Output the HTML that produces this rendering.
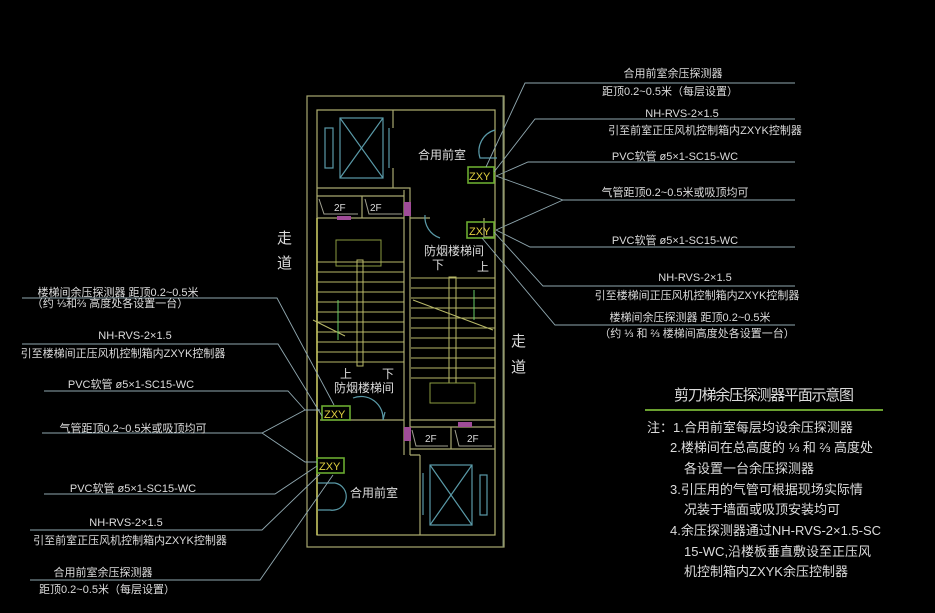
<!DOCTYPE html>
<html><head><meta charset="utf-8"><style>
html,body{margin:0;padding:0;background:#000;}
svg{display:block}
text{font-family:"Liberation Sans","Noto Sans CJK SC",sans-serif;fill:#dcdcdc;}
</style></head><body>
<svg width="935" height="613" viewBox="0 0 935 613" xmlns="http://www.w3.org/2000/svg">
<rect width="935" height="613" fill="#000"/>
<g fill="none" stroke="#a8a870" stroke-width="1.2">
<rect x="307" y="96" width="197" height="451"/>
<rect x="317" y="110" width="178" height="425" stroke="#b0b070"/>
<path d="M317 188 H410 V455"/>
<path d="M393 110 V128 M393 168 V188"/>
<path d="M404 190 V455"/>
<path d="M317 196 H404 M317 218 H404 M362 196 V218"/>
<path d="M410 218 H430 M484 218 V237 H495"/>
<path d="M410 420 H495 M410 427 H495 M410 449 H495 M451 427 V449"/>
<path d="M420 455 V535 M410 455 H420"/>
<path d="M404 420 H320"/>
</g>
<g fill="none" stroke="#5a9aa8" stroke-width="1.2">
<rect x="340" y="118" width="43" height="60"/><path d="M340 118 L383 178 M383 118 L340 178"/>
<rect x="325" y="128" width="8" height="40"/>
<path d="M389 128 V168"/>
<rect x="430" y="465" width="42" height="60"/><path d="M430 465 L472 525 M472 465 L430 525"/>
<rect x="480" y="475" width="7" height="40"/>
<path d="M423 473 V515"/>
<path d="M495 130 A22 22 0 0 0 480 158 L497 158"/>
<path d="M425 215 A22 22 0 0 0 440 238"/>
<path d="M353 398 A22 22 0 0 1 383 420 L385 412"/>
<path d="M318 483 H335 A12 12 0 0 1 330 510 H318"/>
</g>
<g fill="none" stroke="#b8b868" stroke-width="1">
<path d="M317 218 V535" stroke="#c8c860" stroke-width="1.5"/>
<rect x="336" y="240" width="45" height="26" stroke="#8a9a40"/>
<path d="M317 262 H404 M317 272 H404 M317 282 H404 M317 292 H404 M317 302 H404 M317 312 H404 M317 322 H404 M317 332 H404 M317 342 H404 M317 352 H404 M317 362 H404"/>
<rect x="357" y="260" width="6" height="106"/>
<path d="M411 278 H495 M411 288 H495 M411 298 H495 M411 308 H495 M411 318 H495 M411 328 H495 M411 338 H495 M411 348 H495 M411 358 H495 M411 368 H495 M411 378 H495"/>
<rect x="449" y="277" width="7" height="106"/>
<rect x="430" y="383" width="45" height="20" stroke="#8a9a40"/>
<path d="M313 320 L345 336 M413 300 L493 330"/>
<path d="M338 300 V340 M474 290 V320" stroke="#6c6"/>
</g>
<g fill="none" stroke="#a0a090" stroke-width="1"><path d="M319 199 L324 214 H358 M365 199 L369 214 H402 M412 430 L416 446 H448 M455 430 L459 446 H492"/></g>
<g fill="#a04c98"><rect x="337" y="216" width="14" height="4"/><rect x="404" y="202" width="7" height="14"/><rect x="404" y="427" width="7" height="14"/><rect x="458" y="422" width="14" height="5"/></g>
<g font-size="10"><text x="334" y="211">2F</text><text x="370" y="211">2F</text><text x="425" y="442">2F</text><text x="467" y="442">2F</text></g>
<g fill="none" stroke="#6aaa30" stroke-width="1.6">
<rect x="468" y="167" width="26" height="16"/><rect x="467" y="222" width="27" height="16"/>
<rect x="322" y="406" width="28" height="14"/><rect x="317" y="458" width="27" height="15"/>
</g>
<g font-size="11"><text x="469" y="180" style="fill:#e0d040">ZXY</text><text x="469" y="235" style="fill:#e0d040">ZXY</text><text x="324" y="418" style="fill:#e0d040">ZXY</text><text x="319" y="470" style="fill:#e0d040">ZXY</text></g>
<g font-size="12">
<text x="418" y="159">合用前室</text><text x="350" y="497">合用前室</text>
<text x="424" y="255">防烟楼梯间</text><text x="432" y="269">下</text><text x="477" y="271">上</text>
<text x="334" y="392">防烟楼梯间</text><text x="340" y="378">上</text><text x="382" y="378">下</text>
</g>
<g font-size="15"><text x="277" y="243">走</text><text x="277" y="268">道</text><text x="511" y="346">走</text><text x="511" y="372">道</text></g>
<g fill="none" stroke="#90a8b0" stroke-width="0.9">
<path d="M795 83 H525 L486 167"/>
<path d="M795 119 H535 L494 172"/>
<path d="M795 162 H528 L496 176"/>
<path d="M795 200 H563 L496 176 M563 200 L496 230"/>
<path d="M795 247 H530 L496 230"/>
<path d="M795 286 H543 L494 232"/>
<path d="M795 325 H555 L482 238"/>
<path d="M22 298 H277 L334 405"/>
<path d="M22 344 H278 L322 416"/>
<path d="M44 391 H288 L305 410 M305 410 L320 410"/>
<path d="M42 433 H262 L305 410 M262 433 L305 462 H317"/>
<path d="M44 494 H275 L317 466"/>
<path d="M30 530 H262 L320 474"/>
<path d="M30 580 H260 L333 475"/>
</g>
<path d="M503 96 V547" stroke="#7a8a70" stroke-width="1"/>
<g font-size="11" text-anchor="middle">
<text x="673" y="77">合用前室余压探测器</text>
<text x="670" y="95">距顶0.2~0.5米（每层设置）</text>
<text x="682" y="117">NH-RVS-2×1.5</text>
<text x="705" y="134">引至前室正压风机控制箱内ZXYK控制器</text>
<text x="675" y="160">PVC软管 ø5×1-SC15-WC</text>
<text x="675" y="196">气管距顶0.2~0.5米或吸顶均可</text>
<text x="675" y="244">PVC软管 ø5×1-SC15-WC</text>
<text x="695" y="281">NH-RVS-2×1.5</text>
<text x="697" y="299">引至楼梯间正压风机控制箱内ZXYK控制器</text>
<text x="690" y="321">楼梯间余压探测器 距顶0.2~0.5米</text>
<text x="697" y="337">（约 ⅓ 和 ⅔ 楼梯间高度处各设置一台）</text>
<text x="118" y="296">楼梯间余压探测器 距顶0.2~0.5米</text>
<text x="110" y="307">（约 ⅓和⅔ 高度处各设置一台）</text>
<text x="135" y="339">NH-RVS-2×1.5</text>
<text x="123" y="357">引至楼梯间正压风机控制箱内ZXYK控制器</text>
<text x="131" y="388">PVC软管 ø5×1-SC15-WC</text>
<text x="133" y="432">气管距顶0.2~0.5米或吸顶均可</text>
<text x="133" y="492">PVC软管 ø5×1-SC15-WC</text>
<text x="126" y="526">NH-RVS-2×1.5</text>
<text x="130" y="544">引至前室正压风机控制箱内ZXYK控制器</text>
<text x="103" y="576">合用前室余压探测器</text>
<text x="107" y="593">距顶0.2~0.5米（每层设置）</text>
</g>
<text x="674" y="400" font-size="15" textLength="180">剪刀梯余压探测器平面示意图</text>
<path d="M645 410 H883" stroke="#6aa030" stroke-width="2"/>
<g font-size="13">
<text x="647" y="432">注：1.合用前室每层均设余压探测器</text>
<text x="670" y="452">2.楼梯间在总高度的 ⅓ 和 ⅔ 高度处</text>
<text x="684" y="473">各设置一台余压探测器</text>
<text x="670" y="494">3.引压用的气管可根据现场实际情</text>
<text x="684" y="514">况装于墙面或吸顶安装均可</text>
<text x="670" y="535">4.余压探测器通过NH-RVS-2×1.5-SC</text>
<text x="684" y="556">15-WC,沿楼板垂直敷设至正压风</text>
<text x="684" y="576">机控制箱内ZXYK余压控制器</text>
</g>
</svg>
</body></html>
